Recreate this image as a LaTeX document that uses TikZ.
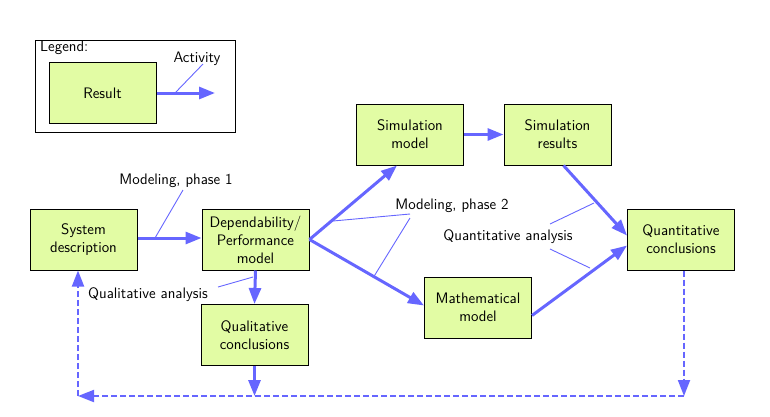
\documentclass[tikz,border=0pt]{standalone}
\usetikzlibrary{arrows.meta,calc}
\definecolor{boxfill}{RGB}{226,252,164}
\definecolor{flow}{RGB}{102,102,255}
\begin{document}
\begin{tikzpicture}[x=1pt,y=-1pt,
  font=\sffamily\fontsize{15.2}{18}\selectfont,
  res/.style={draw=black,line width=1pt,fill=boxfill,minimum width=107pt,minimum height=61pt,inner sep=0pt,align=center},
  act/.style={draw=flow,line width=3pt,-{Triangle[length=16pt,width=12pt]}},
  fb/.style={draw=flow,line width=2pt,dash pattern=on 6pt off 3pt,-{Triangle[length=16pt,width=12pt]}},
  lbl/.style={draw=flow,line width=0.9pt},
  txt/.style={inner sep=0pt}]
\useasboundingbox (0,0) rectangle (770,416);
% legend
\node[draw=black,line width=1pt,minimum width=200pt,minimum height=92pt,inner sep=0pt] (legend) at (135,86) {};
\node[txt,anchor=north west] (legtxt) at (40,41) {Legend:};
\node[res] (lres) at (102.5,93) {Result};
\coordinate (lend) at (215,93);
\draw[act] (lres.east) -- (lend);
\node[txt] (lact) at (197,59) {Activity};
\coordinate (la1) at (175,93); \coordinate (la2) at (203,64);
\draw[lbl] (la1) -- (la2);
% boxes
\node[res] (sys) at (83.5,239.5) {System\\description};
\node[res] (dep) at (255.5,239.5) {Dependability/\\Performance\\model};
\node[res] (sim) at (410,134.5) {Simulation\\model};
\node[res] (sres) at (557.5,134.5) {Simulation\\results};
\node[res] (math) at (478,307.5) {Mathematical\\model};
\node[res] (qual) at (254.5,335) {Qualitative\\conclusions};
\node[res] (quant) at (681,239.5) {Quantitative\\conclusions};
% activities
\draw[act] ([yshift=1.5pt]sys.east) -- ([yshift=1.5pt]dep.west);
\draw[act] (dep.east) -- ([xshift=-13pt]sim.south);
\draw[act] (dep.east) -- ([yshift=2pt]math.west);
\draw[act] (sim.east) -- (sres.west);
\draw[act] ([xshift=6pt]sres.south) -- ([yshift=4pt]quant.west);
\draw[act] ([yshift=-8pt]math.east) -- ([yshift=-6pt]quant.west);
\draw[act] (dep.south) -- (qual.north);
\coordinate (qbot) at (254.5,396);
\draw[act] (qual.south) -- (qbot);
% feedback
\coordinate (fr) at (684,396);
\coordinate (fl) at (78,396);
\draw[fb] ([xshift=3pt]quant.south) -- (fr);
\draw[fb] (fr) -- (fl);
\draw[fb] (fl) -- ([xshift=-5.5pt]sys.south);
% labels
\node[txt] (m1) at (176,181) {Modeling, phase 1};
\coordinate (m1a) at (155,238); \coordinate (m1b) at (183,190);
\draw[lbl] (m1a) -- (m1b);
\node[txt] (qa) at (148,295) {Qualitative analysis};
\coordinate (qa1) at (218,287); \coordinate (qa2) at (253,277);
\draw[lbl] (qa1) -- (qa2);
\node[txt] (m2) at (452,206) {Modeling, phase 2};
\coordinate (m2a) at (333,221); \coordinate (m2b) at (410,214);
\coordinate (m2c) at (373,278); \coordinate (m2d) at (410,218);
\draw[lbl] (m2a) -- (m2b);
\draw[lbl] (m2c) -- (m2d);
\node[txt] (qn) at (508,237) {Quantitative analysis};
\coordinate (qn1) at (550,224); \coordinate (qn2) at (594,203);
\coordinate (qn3) at (550,249); \coordinate (qn4) at (590,268);
\draw[lbl] (qn1) -- (qn2);
\draw[lbl] (qn3) -- (qn4);
\end{tikzpicture}
\end{document}
